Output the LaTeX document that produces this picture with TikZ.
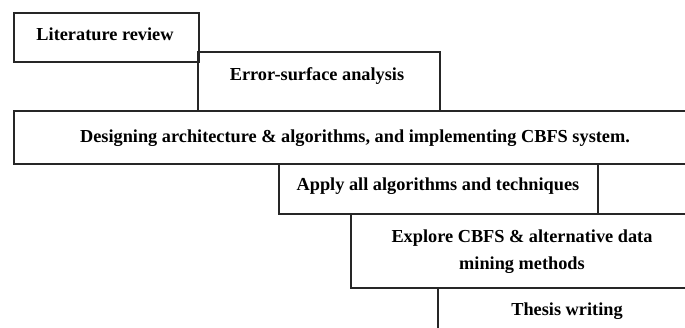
\documentclass[tikz,border=0pt]{standalone}
\usepackage{fontspec}
\setmainfont{Liberation Serif}
\begin{document}
\begin{tikzpicture}[x=1pt,y=-1pt,
  boxline/.style={draw=black!85,line width=1.2pt},
  lbl/.style={font=\fontsize{18.3}{27}\selectfont\bfseries,anchor=base,inner sep=0pt,align=center}]
\useasboundingbox (0,0) rectangle (685,327);
\clip (0,0) rectangle (685,327);
\draw[boxline] (14,13) rectangle (199,62);
\draw[boxline] (198,52) rectangle (440,111);
\draw[boxline] (14,111) rectangle (700,164);
\draw[boxline] (279,164) rectangle (598,214);
\draw[boxline] (351,214) rectangle (700,288);
\draw[boxline] (438,288) rectangle (700,340);
\node[lbl] (lit) at (105,40) {Literature review};
\node[lbl] (err) at (317,80.5) {Error-surface analysis};
\node[lbl] (des) at (355,142) {Designing architecture \& algorithms, and implementing CBFS system.};
\node[lbl] (app) at (438,190) {Apply all algorithms and techniques};
\node[lbl,anchor=base] (exp) at (522,242) {Explore CBFS \& alternative data};
\node[lbl] (exp2) at (522,269) {mining methods};
\node[lbl] (the) at (567,315) {Thesis writing};
\end{tikzpicture}
\end{document}
